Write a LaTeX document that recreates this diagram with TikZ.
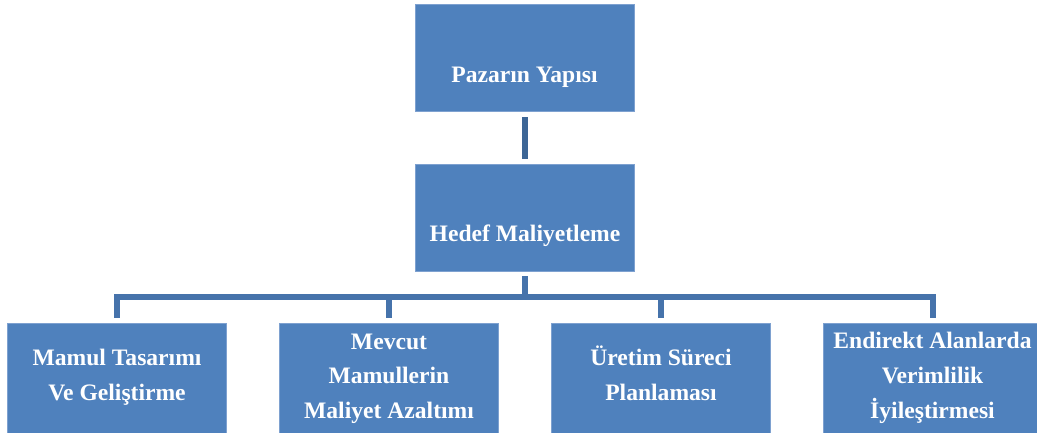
\documentclass[tikz,border=0pt]{standalone}
\usepackage{fontspec}
\setmainfont{Liberation Serif}
\begin{document}
\begin{tikzpicture}[x=1pt,y=-1pt,
  box/.style={draw=boxedge,line width=0.8pt,fill=boxfill,rectangle,inner sep=0pt,
    minimum width=219pt},
  upper/.style={box,minimum height=107pt},
  lower/.style={box,minimum height=114pt},
  txt/.style={text=white,anchor=base,inner sep=0pt,
    font=\fontsize{23.6}{28}\selectfont\bfseries},
  link/.style={draw=linkdark,line width=6pt,line cap=butt},
  tree/.style={draw=linktree,line width=6pt,line cap=butt,line join=miter}]
\definecolor{boxfill}{HTML}{4F81BD}
\definecolor{boxedge}{HTML}{7EA1D0}
\definecolor{linkdark}{HTML}{3D6696}
\definecolor{linktree}{HTML}{4673AB}
\useasboundingbox (0,0) rectangle (1037,432);

% upper two levels
\node[upper] (pazar) at (524.5,57.5) {};
\node[upper] (hedef) at (524.5,217.5) {};
\node[txt] (tpazar) at (524.5,82) {Pazarın Yapısı};
\node[txt] (thedef) at (525,241) {Hedef Maliyetleme};

% bottom level
\node[lower] (m1) at (117,380) {};
\node[lower] (m2) at (389,380) {};
\node[lower] (m3) at (661,380) {};
\node[lower] (m4) at (933,380) {};

\node[txt] (m1a) at (117,365) {Mamul Tasarımı};
\node[txt] (m1b) at (117,400) {Ve Geliştirme};
\node[txt] (m2a) at (389,349) {Mevcut};
\node[txt] (m2b) at (389,383.5) {Mamullerin};
\node[txt] (m2c) at (389,418) {Maliyet Azaltımı};
\node[txt] (m3a) at (661,365.5) {Üretim Süreci};
\node[txt] (m3b) at (661,400) {Planlaması};
\node[txt] (m4a) at (932.5,348) {Endirekt Alanlarda};
\node[txt] (m4b) at (932.5,383) {Verimlilik};
\node[txt] (m4c) at (932.5,418) {İyileştirmesi};

% connectors
\coordinate (bus) at (525,297);
\draw[link,shorten <=6pt,shorten >=5pt] (pazar.south) -- (hedef.north);
\draw[tree,shorten <=5pt] (hedef.south) -- (hedef.south |- bus);
\draw[tree,shorten <=5pt,shorten >=5pt]
  (m1.north) -- (m1.north |- bus) -- (m4.north |- bus) -- (m4.north);
\draw[tree,shorten >=5pt] (m2.north |- bus) -- (m2.north);
\draw[tree,shorten >=5pt] (m3.north |- bus) -- (m3.north);
\end{tikzpicture}
\end{document}
